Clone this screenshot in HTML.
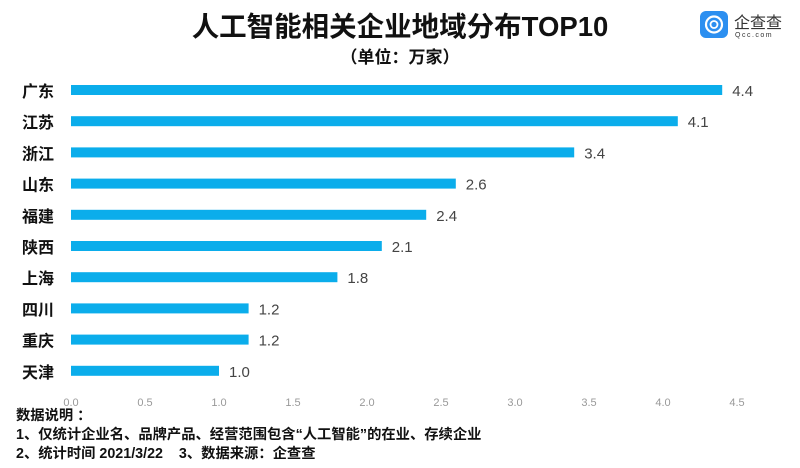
<!DOCTYPE html>
<html><head><meta charset="utf-8"><style>
body{margin:0;width:800px;height:468px;background:#fff;overflow:hidden;font-family:"Liberation Sans","Noto Sans CJK SC",sans-serif}
</style></head><body>
<svg width="800" height="468" style="position:absolute;left:0;top:0">
<text x="400" y="36" text-anchor="middle" font-size="27.5" font-weight="bold" fill="#111" font-family="Liberation Sans, Noto Sans CJK SC, sans-serif">人工智能相关企业地域分布TOP10</text>
<text x="400" y="63" text-anchor="middle" font-size="17" font-weight="bold" fill="#111" font-family="Liberation Sans, Noto Sans CJK SC, sans-serif">（单位：万家）</text>
<g>
<rect x="700" y="11" width="28" height="27" rx="6" fill="#2c8ff0"/>
<circle cx="714" cy="24.5" r="8" fill="none" stroke="#fff" stroke-width="2.2"/>
<circle cx="714" cy="24.5" r="3.5" fill="none" stroke="#fff" stroke-width="1.8"/>
<text x="734" y="28" font-size="16" fill="#333" font-family="Liberation Sans, Noto Sans CJK SC, sans-serif">企查查</text>
<text x="735" y="37" font-size="7" fill="#333" letter-spacing="1.5">Qcc.com</text>
</g>
<g id="bars"></g>
<g id="ticks"></g>
<g font-size="14.3" font-weight="bold" fill="#111" font-family="Liberation Sans, Noto Sans CJK SC, sans-serif">
<text x="16" y="420">数据说明 ：</text>
<text x="16" y="439">1、仅统计企业名、品牌产品、经营范围包含“人工智能”的在业、存续企业</text>
<text x="16" y="458">2、统计时间 2021/3/22 &#160;&#160;&#160;3、数据来源：企查查</text>
</g>
</svg>
<script>
const categories=["广东","江苏","浙江","山东","福建","陕西","上海","四川","重庆","天津"];
const values=[4.4,4.1,3.4,2.6,2.4,2.1,1.8,1.2,1.2,1.0];
const tickValues=[0,0.5,1,1.5,2,2.5,3,3.5,4,4.5];
const tickLabels=["0.0","0.5","1.0","1.5","2.0","2.5","3.0","3.5","4.0","4.5"];
const NS="http://www.w3.org/2000/svg";
const x=v=>71+v*(737-71)/4.5;
const y=i=>90+i*31.2;
const bars=document.getElementById('bars'),ticks=document.getElementById('ticks');
function mk(t,a,p){const e=document.createElementNS(NS,t);for(const k in a)e.setAttribute(k,a[k]);p.appendChild(e);return e;}
categories.forEach((c,i)=>{
 const l=mk('text',{x:22,y:y(i)+7,'font-size':16,'font-weight':'bold',fill:'#111'},bars);l.textContent=c;
 
 
 const r=mk('rect',{x:x(0),y:y(i)-5,width:x(values[i])-x(0),height:10,fill:'#0badeb'},bars);
 
 
 const v=mk('text',{x:x(values[i])+10,y:y(i)+6,'font-size':15,fill:'#444'},bars);v.textContent=values[i].toFixed(1);
 
 
});
tickValues.forEach((t,i)=>{
 const e=mk('text',{x:x(t),y:406,'font-size':11,fill:'#999','text-anchor':'middle'},ticks);e.textContent=tickLabels[i];
 
 
});
</script>
</body></html>
